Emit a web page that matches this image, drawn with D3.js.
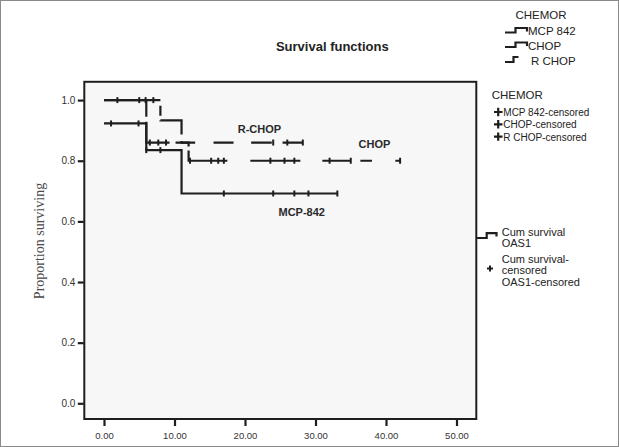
<!DOCTYPE html>
<html>
<head>
<meta charset="utf-8">
<script src="https://cdn.jsdelivr.net/npm/d3@7/dist/d3.min.js"></script>
<style>
  html, body { margin: 0; padding: 0; background: #fff; }
  svg { display: block; font-family: "Liberation Sans", Arial, sans-serif; }
</style>
</head>
<body>
<svg id="chart" width="619" height="447"></svg>
<script>
// ---- Data ----
const xTicks = [0, 10, 20, 30, 40, 50];
const yTicks = [0.0, 0.2, 0.4, 0.6, 0.8, 1.0];

const mcpTime = [0, 6, 11, 33.1];
const mcpSurv = [0.923, 0.835, 0.692, 0.692];
const mcpCensored = [1.0, 4.9, 6.0, 8.0, 17, 24, 27, 29, 33.1];

const chopTime = [0, 6, 12, 42];
const chopSurv = [1.0, 0.86, 0.80, 0.80];
const chopCensored = [1.9, 5.0, 6.5, 7.7, 8.8, 12.2, 15.2, 16.2, 17.0, 23.6, 25.6, 27.0, 32, 35, 42];

const rchopTime = [0, 8, 11, 28.2];
const rchopSurv = [1.0, 0.933, 0.86, 0.86];
const rchopCensored = [5.9, 7.0, 24.0, 26.0, 28.2];

const seriesNames = ["MCP 842", "CHOP", "R CHOP"];
const censoredNames = ["MCP 842-censored", "CHOP-censored", "R CHOP-censored"];

// ---- Layout ----
const svg = d3.select("#chart");
const plot = { left: 84.3, right: 476.3, top: 81.8, bottom: 419 };
const x = d3.scaleLinear().domain([0, 50]).range([104, 456.5]);
const y = d3.scaleLinear().domain([0, 1]).range([403.3, 100.1]);
const ink = "#1e1e1e";

// line styles (dash patterns as drawn by the original software)
const rchopDash = "56.4,5.6,10,4.7,35.3,6.5,15.1,18.4,20,17.6,20.6,10.8,30";
const chopDash = "59,5,44,6,17,4,49,23,50,22,28.6,9.4,11.6,23.4,10";

// outer frame
svg.append("rect").attr("x", 0.5).attr("y", 0.5).attr("width", 618).attr("height", 446)
  .attr("fill", "#fff").attr("stroke", "#8a8a8a").attr("stroke-width", 1);

// title
svg.append("text").attr("x", 332.3).attr("y", 50.5).attr("text-anchor", "middle")
  .attr("font-size", 13).attr("font-weight", "bold").attr("fill", "#222")
  .text("Survival functions");

// plot area
svg.append("rect").attr("x", plot.left).attr("y", plot.top)
  .attr("width", plot.right - plot.left).attr("height", plot.bottom - plot.top)
  .attr("fill", "#f7f7f7").attr("stroke", ink).attr("stroke-width", 2);

// axes
const xAxis = d3.axisBottom(x).tickValues(xTicks).tickSize(6).tickSizeOuter(0)
  .tickFormat(d3.format(".2f"));
const gx = svg.append("g").attr("transform", `translate(0,${plot.bottom + 1})`).call(xAxis);
gx.select(".domain").remove();
gx.selectAll(".tick line").attr("stroke", ink).attr("stroke-width", 2.2);
gx.selectAll(".tick text").attr("font-size", 9.5).attr("fill", "#333")
  .attr("font-family", "Liberation Sans, Arial, sans-serif").attr("dy", "1.05em");

const yAxis = d3.axisLeft(y).tickValues(yTicks).tickSize(6).tickSizeOuter(0)
  .tickFormat(d3.format(".1f"));
const gy = svg.append("g").attr("transform", `translate(${plot.left - 0.5},0)`).call(yAxis);
gy.select(".domain").remove();
gy.selectAll(".tick line").attr("stroke", ink).attr("stroke-width", 2.2);
gy.selectAll(".tick text").attr("font-size", 10).attr("fill", "#333")
  .attr("font-family", "Liberation Sans, Arial, sans-serif").attr("x", -8.5);

// y axis title
svg.append("text").attr("transform", "translate(44,241) rotate(-90)")
  .attr("text-anchor", "middle").attr("font-family", "Liberation Serif, Times New Roman, serif")
  .attr("font-size", 14).attr("fill", "#4a4a4a").text("Proportion surviving");

// ---- Survival curves ----
const line = d3.line().x(d => x(d[0])).y(d => y(d[1])).curve(d3.curveStepAfter);
function stepAt(times, surv, t) {
  let v = surv[0];
  for (let i = 0; i < times.length; i++) if (t >= times[i]) v = surv[i];
  return v;
}
const series = [
  { time: mcpTime, surv: mcpSurv, cens: mcpCensored, dash: null },
  { time: rchopTime, surv: rchopSurv, cens: rchopCensored, dash: rchopDash },
  { time: chopTime, surv: chopSurv, cens: chopCensored, dash: chopDash }
];
series.forEach(s => {
  const pts = s.time.map((t, i) => [t, s.surv[i]]);
  svg.append("path").attr("d", line(pts)).attr("fill", "none")
    .attr("stroke", ink).attr("stroke-width", 2.2)
    .attr("stroke-dasharray", s.dash);
  svg.append("g").selectAll("line").data(s.cens).join("line")
    .attr("x1", d => x(d)).attr("x2", d => x(d))
    .attr("y1", d => y(stepAt(s.time, s.surv, d)) - 3)
    .attr("y2", d => y(stepAt(s.time, s.surv, d)) + 3)
    .attr("stroke", ink).attr("stroke-width", 2);
});

// curve labels
const curveLabels = [
  { text: "R-CHOP", x: 237.7, y: 133.3 },
  { text: "CHOP", x: 358.5, y: 148.3 },
  { text: "MCP-842", x: 278.5, y: 215.7 }
];
svg.append("g").selectAll("text").data(curveLabels).join("text")
  .attr("x", d => d.x).attr("y", d => d.y).attr("font-size", 11)
  .attr("font-weight", "bold").attr("fill", "#2a2a2a").text(d => d.text);

// ---- Legend 1: line styles ----
svg.append("text").attr("x", 541).attr("y", 19).attr("text-anchor", "middle")
  .attr("font-size", 11.5).attr("fill", "#222").text("CHEMOR");
const leg1Y = [35, 49.5, 64.5];
seriesNames.forEach((name, i) => {
  const by = leg1Y[i] - 2.5;
  if (i < 2) {
    svg.append("path")
      .attr("d", `M505,${by}H515.5V${by - 4.5}H527V${by - 1}`)
      .attr("fill", "none").attr("stroke", ink).attr("stroke-width", 2.2);
  } else {
    svg.append("path")
      .attr("d", `M505,${by}H513.5V${by - 5}H518.5`)
      .attr("fill", "none").attr("stroke", ink).attr("stroke-width", 2.2);
  }
  svg.append("text").attr("x", i < 2 ? 528 : 531).attr("y", leg1Y[i])
    .attr("font-size", 11.5).attr("fill", "#222").text(name);
});

// ---- Legend 2: censored markers ----
svg.append("text").attr("x", 491.7).attr("y", 98.5)
  .attr("font-size", 11.5).attr("fill", "#222").text("CHEMOR");
const leg2Y = [116, 128.3, 140.6];
censoredNames.forEach((name, i) => {
  const cy = leg2Y[i] - 4;
  svg.append("path").attr("d", `M494,${cy}H502.5M498.2,${cy - 4.2}V${cy + 4.2}`)
    .attr("stroke", ink).attr("stroke-width", 2.2);
  svg.append("text").attr("x", 503.3).attr("y", leg2Y[i])
    .attr("font-size", 10).attr("fill", "#222").text(name);
});

// ---- Legend 3: overall survival ----
svg.append("path").attr("d", "M476.5,238H486.7V233.2H496.5V236.5")
  .attr("fill", "none").attr("stroke", ink).attr("stroke-width", 2.2);
const leg3 = [
  { text: "Cum survival", y: 235.5 },
  { text: "OAS1", y: 247 },
  { text: "Cum survival-", y: 262.5 },
  { text: "censored", y: 274 },
  { text: "OAS1-censored", y: 285.5 }
];
svg.append("g").selectAll("text").data(leg3).join("text")
  .attr("x", 501.7).attr("y", d => d.y).attr("font-size", 11).attr("fill", "#222")
  .text(d => d.text);
svg.append("path").attr("d", "M487,268.5H493M490,265.5V271.5")
  .attr("stroke", ink).attr("stroke-width", 2);
</script>
</body>
</html>
